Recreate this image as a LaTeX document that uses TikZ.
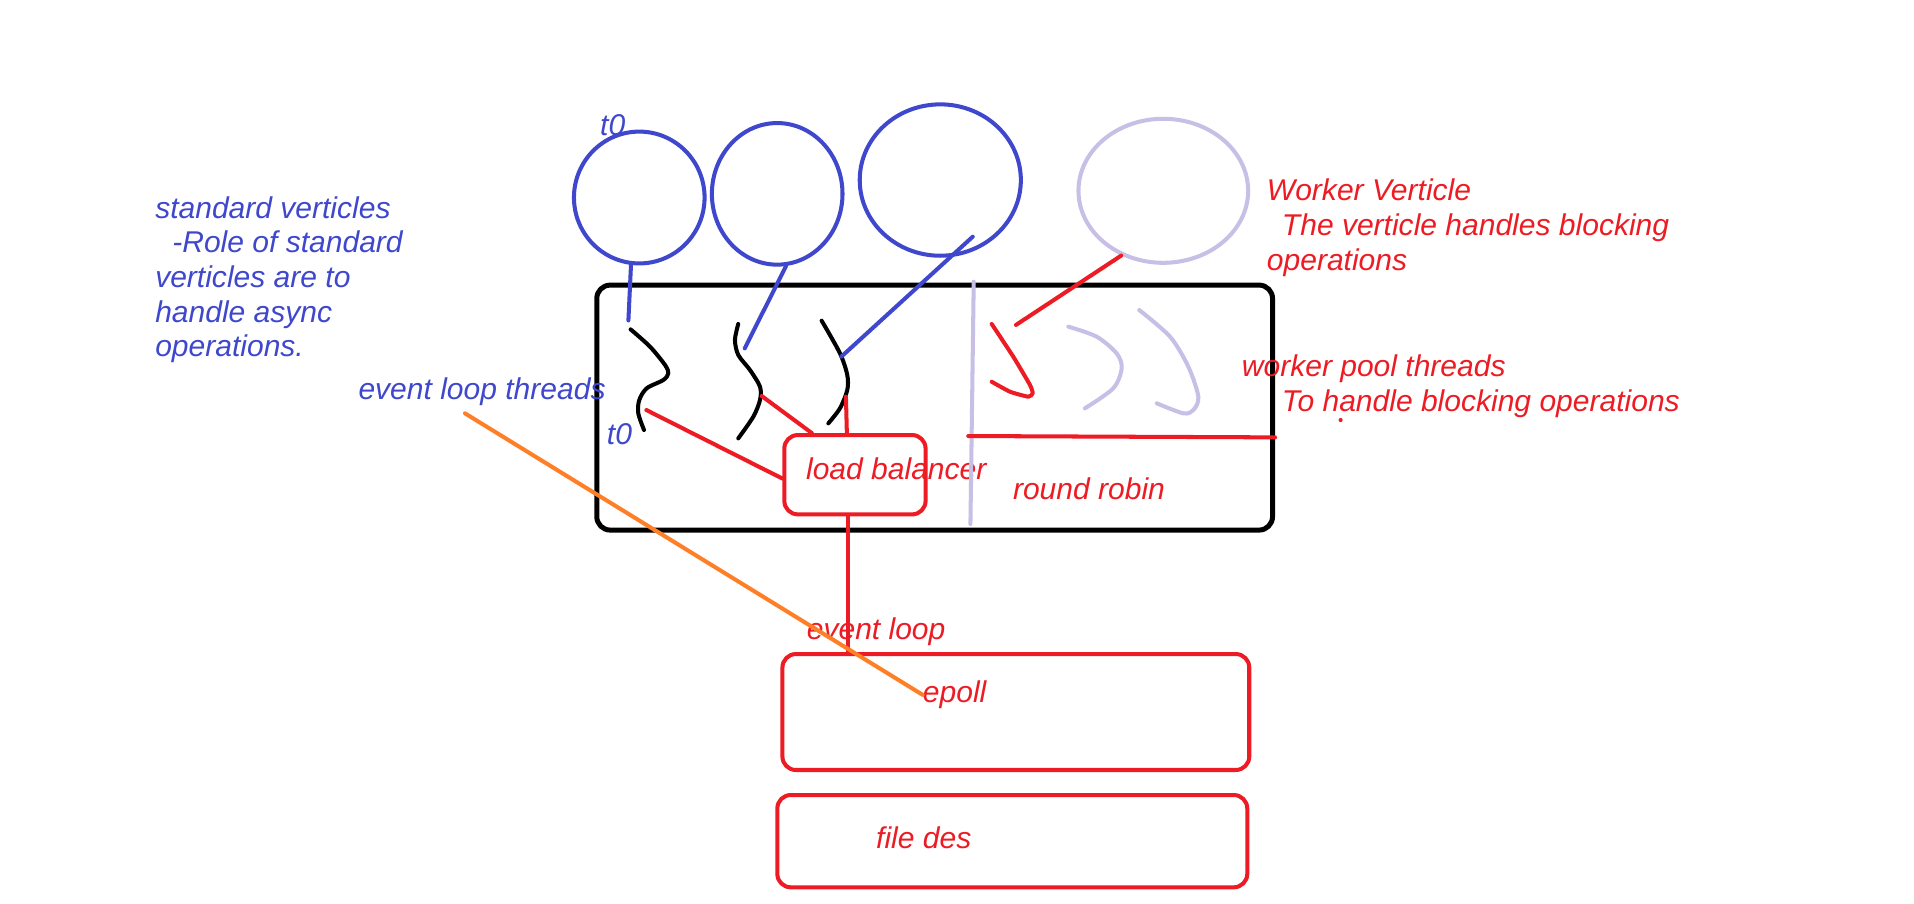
\documentclass[tikz,border=0pt]{standalone}
\usepackage{fontspec}
\setmainfont{Liberation Sans}
\usetikzlibrary{shapes.geometric}
\definecolor{paintblue}{RGB}{63,72,204}
\definecolor{paintred}{RGB}{237,28,36}
\definecolor{paintlilac}{RGB}{200,191,231}
\definecolor{paintorange}{RGB}{255,127,39}
\begin{document}
\begin{tikzpicture}
    [
    x=1pt, y=-1pt,
    brush/.style={line width=3.3pt, line cap=round, line join=round},
    vert/.style={ellipse, draw, brush, inner sep=0pt},
    box/.style={rectangle, draw, brush, rounded corners=11pt, inner sep=0pt},
    note/.style={font=\itshape\fontsize{24.6}{28.4}\selectfont, inner sep=0pt, anchor=base west, align=left}
    ]
    \useasboundingbox (0,0) rectangle (1568,740);
    \fill [white] (0,0) rectangle (1568,740);
    % verticles
    \node (v1) at (523.7,161.8) [vert, paintblue, minimum width=107pt, minimum height=108pt] {};
    \node (v2) at (636.7,158.8) [vert, paintblue, minimum width=107pt, minimum height=116pt] {};
    \node (v3) at (770.3,147.5) [vert, paintblue, minimum width=132pt, minimum height=124pt] {};
    \node (v4) at (953,156.3) [vert, paintlilac, minimum width=139pt, minimum height=118pt] {};
    % boxes
    \node (pool) at (765.7,333.9) [box, black, line width=4.1pt, minimum width=553.6pt, minimum height=200.7pt] {};
    \node (lb) at (700.4,388.9) [box, paintred, minimum width=115.7pt, minimum height=65pt] {};
    \node (epoll) at (832.2,583.3) [box, paintred, minimum width=382.4pt, minimum height=95pt] {};
    \node (fd) at (829.3,689.1) [box, paintred, minimum width=385pt, minimum height=75.6pt] {};
    % texts (base = last line)
    \node (t0a) at (491.5,110.6) [note, paintblue] {t0};
    \node (std) at (127,292.2) [note, paintblue] {standard verticles\\\hspace*{14pt}-Role of standard\\verticles are to\\handle async\\operations.};
    \node (elt) at (293.5,327) [note, paintblue] {event loop threads};
    \node (t0b) at (497,364.5) [note, paintblue] {t0};
    \node (wv) at (1037.7,221.2) [note, paintred] {Worker Verticle\\\hspace*{12.3pt}The verticle handles blocking\\operations};
    \node (wpt) at (1017.2,337.2) [note, paintred] {worker pool threads\\\hspace*{32.8pt}To handle blocking operations};
    \node (lbtext) at (660.2,392.7) [note, paintred] {load balancer};
    \node (rr) at (829.7,409.6) [note, paintred] {round robin};
    \node (el) at (660.8,523.7) [note, paintred] {event loop};
    \node (ep) at (755.9,575.6) [note, paintred] {epoll};
    \node (fdtext) at (717.6,695) [note, paintred] {file des};
    % thread ends
    \coordinate (th1) at (514.8,262.5);
    \coordinate (th2) at (610.1,285.4);
    \coordinate (th3) at (689.2,292.2);
    \coordinate (v3in) at (796.9,193.9);
    \coordinate (r1) at (529.5,335.9);
    \coordinate (r2) at (624,324.4);
    \coordinate (r3) at (693,325);
    \coordinate (divtop) at (797.7,230.8);
    \coordinate (divbot) at (795,429.3);
    \coordinate (divmid) at (793.2,357.2);
    \coordinate (chk) at (832.3,266.2);
    \coordinate (eltend) at (380.9,338.6);
    % event loop threads
    \draw [brush] plot [smooth] coordinates {(516.6,269.8) (532.5,284) (544.8,299) (547.5,305.8) (543.4,311.3) (529.8,318.1) (523.7,327.7) (522.9,338.6) (527.6,352.3)};
    \draw [brush] plot [smooth] coordinates {(604.8,265.4) (602.1,278.5) (604.8,290.8) (614.4,303.1) (622.6,316.8) (622.6,327.7) (617.1,341.4) (604.8,359.1)};
    \draw [brush] plot [smooth] coordinates {(673.1,262.7) (688.1,289.4) (694.1,307.2) (694.1,319.5) (688.1,334.5) (678.6,346.8)};
    \draw [brush, paintblue] (v1.-97) to (th1);
    \draw [brush, paintblue] (v2.-83) to (th2);
    \draw [brush, paintblue] (v3in) to (th3);
    % load balancer
    \draw [brush, paintred] (r1) to (lb.183);
    \draw [brush, paintred] (r2) to (lb.136);
    \draw [brush, paintred] (r3) to (lb.101);
    \draw [brush, paintred] (lb.-99) to (lb.-99 |- epoll.north);
    % worker pool
    \draw [brush, paintlilac] (divtop) to (divbot);
    \draw [brush, paintred] (divmid) to (pool.-5.8);
    \draw [brush, paintred] (v4.-123.5) to (chk);
    \draw [brush, paintred] plot [smooth, tension=0.3] coordinates {(812.4,265.4) (830.1,292.2) (843.8,315.4) (846,322.2) (842.4,325) (827.4,320.9) (812.4,312.7)};
    \draw [brush, paintlilac] plot [smooth] coordinates {(875.2,267.6) (898.4,275.8) (914.8,289.5) (918.9,301.7) (912,318.1) (888.8,334.5)};
    \draw [brush, paintlilac] plot [smooth] coordinates {(933.3,254) (958.5,275.8) (973.5,300.4) (981.7,325) (977.6,335.9) (969.4,338.6) (947.6,330.4)};
    \fill [paintred] (1098.3,344.1) circle (1.7pt);
    \draw [brush, paintorange] (eltend) to (ep.west);
\end{tikzpicture}
\end{document}
